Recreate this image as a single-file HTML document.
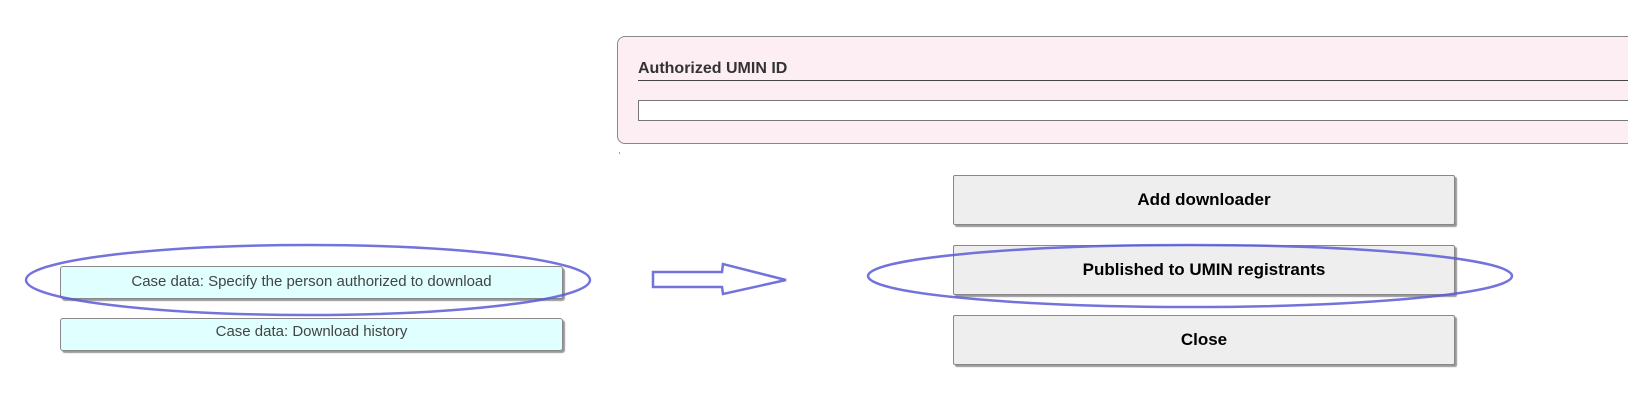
<!DOCTYPE html>
<html><head><style>
body{margin:0;width:1628px;height:405px;background:#fff;position:relative;overflow:hidden;font-family:"Liberation Sans",sans-serif}
.pink{position:absolute;left:617px;top:36px;width:1100px;height:106px;background:#fdeef3;border:1px solid #888;border-radius:8px}
.t{position:absolute;left:638px;top:60px;font-weight:bold;font-size:16px;color:#333}
.ul{position:absolute;left:638px;top:80px;width:1000px;height:1px;background:#444}
.in{position:absolute;left:638px;top:100px;width:1000px;height:19px;background:#fff;border:1px solid #777}
.b{position:absolute;left:953px;width:500px;height:48px;background:#eee;border:1px solid #888;border-radius:2px;box-shadow:2px 2px 1px #999;font-weight:bold;font-size:17px;text-align:center;line-height:48px;color:#000}
.c{position:absolute;left:60px;width:501px;height:31px;background:#e0ffff;border:1px solid #888;border-radius:3px;box-shadow:2px 2px 1px #999;font-size:15px;text-align:center;color:#444;line-height:30px}
</style></head><body>
<div class="pink"></div>
<div class="t">Authorized UMIN ID</div>
<div class="ul"></div>
<div class="in"></div>
<div style="position:absolute;left:619px;top:152px;width:1px;height:2px;background:#99c"></div>
<div class="b" style="top:175px">Add downloader</div>
<div class="b" style="top:245px">Published to UMIN registrants</div>
<div class="b" style="top:315px">Close</div>
<div class="c" style="top:266px">Case data: Specify the person authorized to download</div>
<div class="c" style="top:318px;line-height:26px">Case data: Download history</div>
<svg width="1628" height="405" style="position:absolute;left:0;top:0">
<g fill="none" stroke="#5a5ad6" stroke-width="2.5" opacity="0.85">
<ellipse cx="308" cy="280" rx="282" ry="35"/>
<ellipse cx="1190" cy="276" rx="322" ry="31"/>
<path d="M653 272 L722 272 L723 264 L786 280 L723 294 L722 287 L653 287 Z"/>
</g></svg>
</body></html>
